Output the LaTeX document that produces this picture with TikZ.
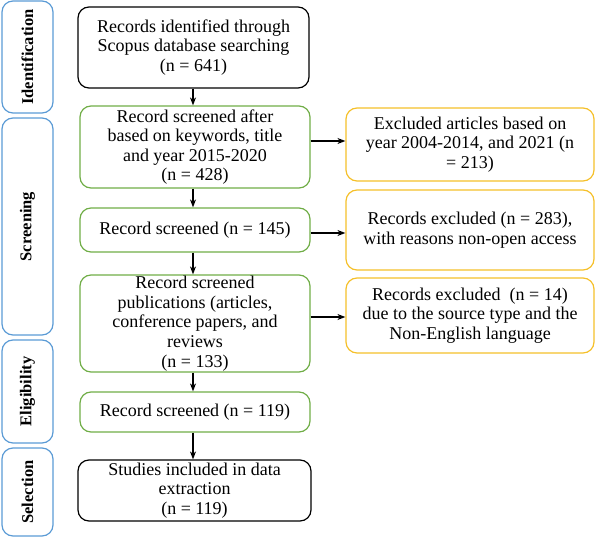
\documentclass[tikz,border=0pt]{standalone}
\usepackage{fontspec}
\setmainfont{Liberation Serif}
\usetikzlibrary{arrows.meta}
\definecolor{sideblue}{HTML}{5B9BD5}
\definecolor{boxgreen}{HTML}{70AD47}
\definecolor{boxyellow}{HTML}{F5C02A}
\begin{document}
\begin{tikzpicture}[x=1pt,y=-1pt,
  base/.style={rectangle, rounded corners=11pt, line width=1.2pt, align=center,
    inner sep=0pt, font=\fontsize{18}{19.6}\selectfont},
  blackbox/.style={base, draw=black},
  greenbox/.style={base, draw=boxgreen},
  yellowbox/.style={base, draw=boxyellow},
  sidebox/.style={rectangle, rounded corners=11pt, line width=1.2pt, draw=sideblue,
    minimum width=51pt},
  sidelabel/.style={rotate=90, font=\bfseries\fontsize{16.5}{19}\selectfont},
  arr/.style={-{Stealth[length=8pt,width=6pt]}, line width=1.6pt}]
\useasboundingbox (0,0) rectangle (596,537);
% side boxes
\node[sidebox, minimum height=112pt] (sid) at (27.5,57) {};
\node[sidelabel] (lid) at (sid.center) {Identification};
\node[sidebox, minimum height=217pt] (ssc) at (27.5,226.5) {};
\node[sidelabel] (lsc) at (ssc.center) {Screening};
\node[sidebox, minimum height=103pt] (sel) at (27.5,391.5) {};
\node[sidelabel] (lel) at (sel.center) {Eligibility};
\node[sidebox, minimum height=88pt] (sse) at (27.5,492) {};
\node[sidelabel] (lse) at (sse.center) {Selection};
% main boxes
\node[blackbox, minimum width=231pt, minimum height=81pt] (b1) at (193.5,47.5)
  {Records identified through\\Scopus database searching\\(n = 641)};
\node[greenbox, minimum width=230pt, minimum height=82pt] (b2) at (195,147)
  {Record screened after\\based on keywords, title\\and year 2015-2020\\(n = 428)};
\node[greenbox, minimum width=230pt, minimum height=44pt] (b3) at (195,230)
  {Record screened (n = 145)};
\node[greenbox, minimum width=230pt, minimum height=97pt] (b4) at (195,323.5)
  {Record screened\\publications (articles,\\conference papers, and\\reviews\\(n = 133)};
\node[greenbox, minimum width=230pt, minimum height=40pt] (b5) at (195,412)
  {Record screened (n = 119)};
\node[blackbox, minimum width=233pt, minimum height=61pt] (b6) at (194.5,490.5)
  {Studies included in data\\extraction\\(n = 119)};
% right boxes
\node[yellowbox, minimum width=248pt, minimum height=73pt] (r1) at (470,144.5)
  {Excluded articles based on\\year 2004-2014, and 2021 (n\\= 213)};
\node[yellowbox, minimum width=248pt, minimum height=80pt] (r2) at (470,230)
  {Records excluded (n = 283),\\with reasons non-open access};
\node[yellowbox, minimum width=248pt, minimum height=75pt] (r3) at (470,315.5)
  {Records excluded\ \ (n = 14)\\due to the source type and the\\Non-English language};
% arrows
\coordinate (a1) at (193,0);
\draw[arr] (b1.south -| a1) -- (b2.north -| a1);
\draw[arr] (b2.south -| a1) -- (b3.north -| a1);
\draw[arr] (b3.south -| a1) -- (b4.north -| a1);
\draw[arr] (b4.south -| a1) -- (b5.north -| a1);
\draw[arr] (b5.south -| a1) -- (b6.north -| a1);
\draw[arr] ([yshift=3.5pt]r1.west -| b2.east) -- ([yshift=3.5pt]r1.west);
\draw[arr] ([yshift=-3pt]r2.west -| b3.east) -- ([yshift=-3pt]r2.west);
\draw[arr] ([yshift=-1.5pt]r3.west -| b4.east) -- ([yshift=-1.5pt]r3.west);
\end{tikzpicture}
\end{document}
